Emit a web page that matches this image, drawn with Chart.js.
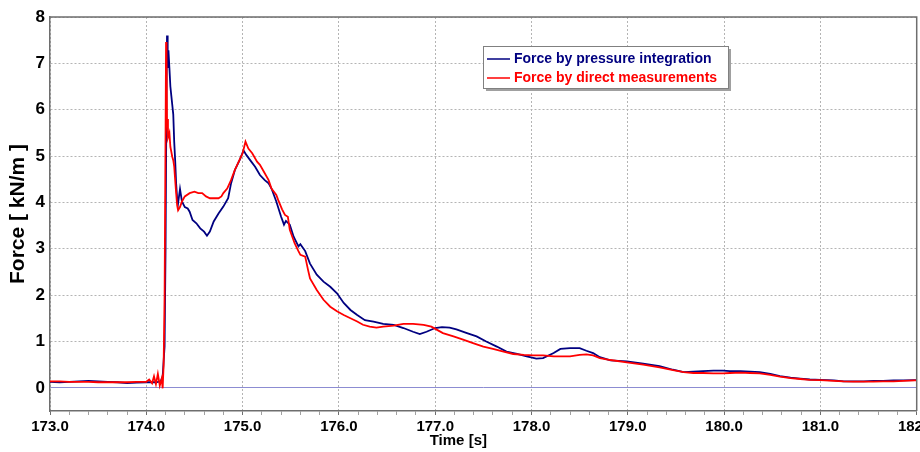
<!DOCTYPE html>
<html>
<head>
<meta charset="utf-8">
<script src="https://cdn.jsdelivr.net/npm/chart.js@4/dist/chart.umd.min.js"></script>
<style>
html,body{margin:0;padding:0;background:#fff;overflow:hidden;}
canvas{display:block;}
</style>
</head>
<body>
<canvas id="c" width="920" height="452"></canvas>
<script>
// ---- data ----
const seriesNames = ['Force by pressure integration', 'Force by direct measurements'];
const xTitle = 'Time [s]';
const yTitle = 'Force [ kN/m ]';

const timeBlue = [173.00,173.10,173.20,173.30,173.40,173.50,173.60,173.70,173.80,173.90,174.00,174.10,174.15,174.17,174.19,174.20,174.21,174.215,174.222,174.23,174.24,174.25,174.26,174.27,174.28,174.29,174.30,174.31,174.32,174.33,174.35,174.37,174.40,174.43,174.45,174.48,174.52,174.56,174.60,174.63,174.66,174.70,174.75,174.80,174.85,174.88,174.92,174.97,175.01,175.04,175.09,175.13,175.18,175.23,175.27,175.30,175.35,175.40,175.43,175.45,175.49,175.53,175.58,175.60,175.65,175.70,175.77,175.84,175.91,175.98,176.05,176.12,176.19,176.27,176.36,176.46,176.57,176.67,176.77,176.84,176.91,177.00,177.07,177.15,177.22,177.33,177.43,177.53,177.64,177.74,177.85,177.95,178.05,178.12,178.23,178.30,178.40,178.50,178.57,178.64,178.71,178.82,178.99,179.16,179.33,179.47,179.58,179.68,179.78,179.89,179.99,180.06,180.17,180.27,180.37,180.48,180.58,180.69,180.79,180.89,181.00,181.14,181.24,181.34,181.45,181.55,181.65,181.76,181.86,181.98,182.00];
const forceBlue = [0.13,0.12,0.13,0.14,0.15,0.14,0.13,0.12,0.10,0.11,0.12,0.12,0.14,0.25,0.9,3.0,6.5,7.6,6.9,7.28,6.9,6.5,6.3,6.1,5.9,5.3,4.9,4.4,4.1,3.98,4.29,4.02,3.90,3.87,3.80,3.62,3.55,3.44,3.37,3.28,3.37,3.59,3.76,3.91,4.09,4.41,4.70,4.92,5.12,5.02,4.88,4.77,4.59,4.48,4.41,4.30,4.02,3.69,3.52,3.60,3.52,3.26,3.05,3.10,2.95,2.68,2.44,2.29,2.18,2.04,1.83,1.68,1.57,1.46,1.43,1.38,1.36,1.29,1.21,1.16,1.21,1.29,1.31,1.30,1.26,1.18,1.11,1.00,0.89,0.78,0.73,0.68,0.63,0.64,0.75,0.84,0.855,0.855,0.80,0.75,0.66,0.59,0.57,0.52,0.47,0.39,0.34,0.35,0.36,0.37,0.37,0.36,0.36,0.35,0.34,0.30,0.25,0.22,0.20,0.18,0.17,0.16,0.14,0.14,0.14,0.15,0.15,0.16,0.16,0.165,0.165];

const timeRed = [173.00,173.10,173.20,173.30,173.40,173.50,173.60,173.70,173.80,173.90,174.00,174.03,174.06,174.08,174.10,174.12,174.14,174.16,174.17,174.18,174.19,174.20,174.205,174.21,174.215,174.225,174.24,174.25,174.27,174.28,174.29,174.30,174.31,174.32,174.33,174.35,174.37,174.40,174.45,174.50,174.54,174.58,174.62,174.66,174.70,174.75,174.78,174.80,174.84,174.88,174.92,174.96,175.00,175.03,175.06,175.10,175.15,175.18,175.23,175.27,175.30,175.35,175.37,175.41,175.44,175.47,175.49,175.54,175.58,175.60,175.65,175.68,175.70,175.77,175.84,175.91,175.98,176.05,176.12,176.19,176.25,176.32,176.39,176.46,176.57,176.67,176.77,176.88,176.96,177.02,177.08,177.19,177.29,177.40,177.50,177.60,177.71,177.81,177.92,178.02,178.12,178.23,178.30,178.40,178.50,178.57,178.64,178.71,178.82,178.99,179.16,179.33,179.47,179.58,179.68,179.78,179.89,179.99,180.06,180.17,180.27,180.37,180.48,180.58,180.69,180.79,180.89,181.00,181.14,181.24,181.34,181.45,181.55,181.65,181.76,181.86,181.98,182.00];
const forceRed = [0.14,0.14,0.13,0.13,0.13,0.12,0.12,0.12,0.12,0.13,0.13,0.18,0.10,0.25,0.08,0.30,0.05,0.20,-0.01,0.5,2.0,5.5,7.46,7.2,5.8,5.4,5.5,5.2,4.98,4.91,4.77,4.48,4.20,3.94,3.83,3.90,4.02,4.13,4.20,4.23,4.20,4.20,4.13,4.09,4.09,4.09,4.13,4.20,4.30,4.48,4.70,4.88,5.06,5.31,5.16,5.06,4.88,4.81,4.63,4.48,4.30,4.16,4.05,3.85,3.73,3.69,3.41,3.12,2.95,2.87,2.83,2.54,2.36,2.11,1.90,1.75,1.65,1.57,1.50,1.43,1.36,1.32,1.30,1.32,1.34,1.38,1.38,1.36,1.32,1.25,1.18,1.11,1.04,0.96,0.89,0.84,0.78,0.73,0.71,0.70,0.70,0.68,0.68,0.68,0.71,0.72,0.70,0.64,0.60,0.55,0.50,0.44,0.38,0.34,0.32,0.32,0.31,0.31,0.32,0.33,0.32,0.31,0.28,0.24,0.21,0.19,0.17,0.166,0.15,0.14,0.135,0.135,0.135,0.14,0.14,0.15,0.16,0.16];

const xMin = 173, xMax = 182, xMinorStep = 0.2;
const yMin = -0.5, yMax = 8, yStep = 1;

// ---- chart ----
const isWhole = v => Math.abs(v - Math.round(v)) < 1e-6;
const toPoints = (xs, ys) => xs.map((x, i) => ({x: x, y: ys[i]}));

const boxPlugin = {
  id: 'boxPlugin',
  afterDraw(chart) {
    const {ctx, chartArea: a} = chart;
    ctx.save();
    ctx.strokeStyle = '#6e6e6e';
    ctx.lineWidth = 1.5;
    ctx.beginPath();
    ctx.moveTo(a.left, a.top); ctx.lineTo(a.right, a.top); ctx.lineTo(a.right, a.bottom);
    ctx.stroke();
    // legend
    const lx = 483, ly = 46, lw = 245, lh = 42;
    ctx.fillStyle = '#a0a0a0';
    ctx.fillRect(lx + 3, ly + 3, lw, lh);
    ctx.fillStyle = '#ffffff';
    ctx.fillRect(lx, ly, lw, lh);
    ctx.strokeStyle = '#808080';
    ctx.lineWidth = 1;
    ctx.strokeRect(lx + 0.5, ly + 0.5, lw, lh);
    ctx.font = 'bold 14px "Liberation Sans", Arial, sans-serif';
    ctx.textBaseline = 'middle';
    chart.data.datasets.forEach((ds, i) => {
      const yy = ly + 13 + i * 19;
      ctx.strokeStyle = ds.borderColor;
      ctx.lineWidth = 1.5;
      ctx.beginPath(); ctx.moveTo(lx + 4, yy); ctx.lineTo(lx + 27, yy); ctx.stroke();
      ctx.fillStyle = ds.borderColor;
      ctx.fillText(ds.label, lx + 31, yy);
    });
    ctx.restore();
  }
};

new Chart(document.getElementById('c'), {
  type: 'line',
  data: {
    datasets: [
      {label: seriesNames[0], data: toPoints(timeBlue, forceBlue), borderColor: '#000080', borderWidth: 1.8, pointRadius: 0, tension: 0, order: 2},
      {label: seriesNames[1], data: toPoints(timeRed, forceRed), borderColor: '#ff0000', borderWidth: 1.8, pointRadius: 0, tension: 0, order: 1}
    ]
  },
  options: {
    responsive: false,
    animation: false,
    layout: {padding: {left: 0, right: 3.3, top: 17, bottom: 0}},
    plugins: {legend: {display: false}, tooltip: {enabled: false}},
    scales: {
      x: {
        type: 'linear', min: xMin, max: xMax,
        afterFit(s) { s.height = 41; s.paddingLeft = 0; s.paddingRight = 0; },
        ticks: {
          stepSize: xMinorStep, autoSkip: false, maxRotation: 0, minRotation: 0, padding: 3,
          color: '#000', font: {family: '"Liberation Sans", Arial, sans-serif', size: 15, weight: 'bold'},
          callback: v => isWhole(v) ? v.toFixed(1) : ''
        },
        grid: {
          color: c => (c.tick && isWhole(c.tick.value)) ? '#b4b4b4' : 'rgba(0,0,0,0)',
          tickColor: c => (c.tick && isWhole(c.tick.value)) ? '#6e6e6e' : '#a0a0a0',
          tickLength: 4, lineWidth: 1
        },
        border: {color: '#6e6e6e', width: 1.5, dash: [2, 2]},
        title: {display: true, text: xTitle + '\u00a0'.repeat(12), color: '#000', padding: {top: 0, bottom: 2},
          font: {family: '"Liberation Sans", Arial, sans-serif', size: 15, weight: 'bold'}}
      },
      y: {
        min: yMin, max: yMax,
        afterFit(s) { s.width = 50; },
        ticks: {
          stepSize: yStep, padding: 5, color: '#000',
          font: {family: '"Liberation Sans", Arial, sans-serif', size: 17, weight: 'bold'},
          callback: v => isWhole(v) ? String(v) : ''
        },
        grid: {
          drawTicks: false,
          color: c => {
            if (!c.tick) return 'rgba(0,0,0,0)';
            if (c.tick.value === 0) return '#8c8cd2';
            return isWhole(c.tick.value) ? '#b4b4b4' : 'rgba(0,0,0,0)';
          },
          lineWidth: 1
        },
        border: {color: '#6e6e6e', width: 1.5, dash: c => (c.tick && c.tick.value === 0) ? [] : [2, 2]},
        title: {display: true, text: yTitle, color: '#000', padding: {top: 6, bottom: 0},
          font: {family: '"Liberation Sans", Arial, sans-serif', size: 21, weight: 'bold'}}
      }
    }
  },
  plugins: [boxPlugin]
});
</script>
</body>
</html>
